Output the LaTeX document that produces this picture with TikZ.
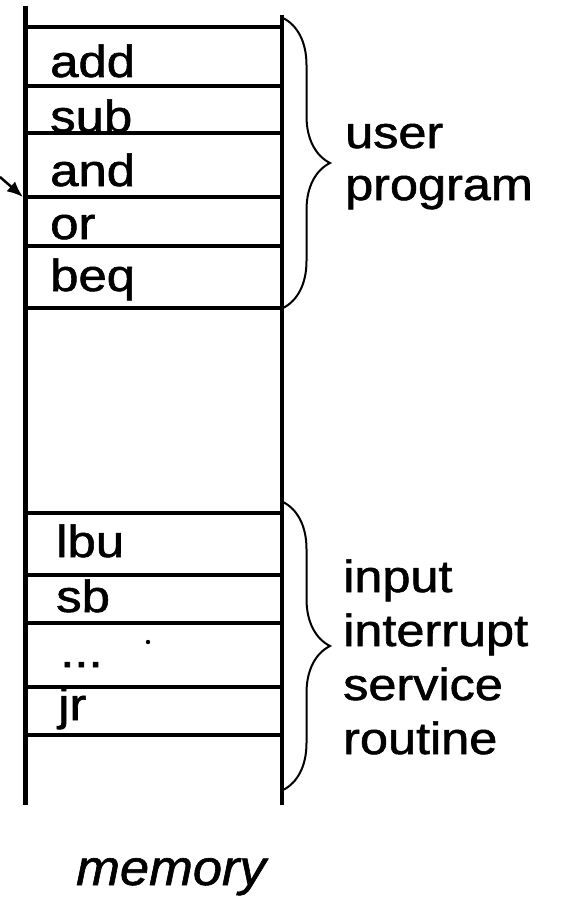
\documentclass[tikz,border=0pt]{standalone}
\usepackage{fontspec}
\setmainfont{Liberation Sans}[FakeBold=1.2]
\usetikzlibrary{arrows.meta,decorations.pathreplacing}

\begin{document}
\begin{tikzpicture}[x=1pt, y=-1pt, every node/.style={inner sep=0pt, font=\fontsize{45}{54}\selectfont},%
        cell/.style={anchor=base west, xscale=1.13}, note/.style={anchor=base west, align=left, xscale=1.12},%
        rule/.style={line width=4pt}, bracket/.style={line width=2pt, decorate, decoration={brace, amplitude=47pt}}]
    \useasboundingbox (0,0) rectangle (560,899);
    % the memory column
    \draw[line width=5pt] (25,6) -- (25,805);
    \draw[line width=4pt] (282,15) -- (282,805);
    \foreach \y in {27,86,133,197,246,308,513,575,623,687,735}
        \draw[rule] (25,\y) -- (282,\y);
    % words in memory
    \node[cell] (add) at (50,77) {add};
    \node[cell] (sub) at (50,132) {sub};
    \node[cell] (and) at (50,186) {and};
    \node[cell] (or) at (50,239) {or};
    \node[cell] (beq) at (50,291) {beq};
    \node[cell] (lbu) at (56,557) {lbu};
    \node[cell] (sb) at (56,612) {sb};
    \node[cell] (dots) at (60,667) {...};
    \node[cell] (jr) at (58,720) {jr};
    \fill (148,642) circle (2.2pt);
    % interrupt arrow
    \coordinate (from) at (0,177);
    \coordinate (to) at (23,197);
    \draw[line width=2.5pt, -{Latex[length=16pt,width=13pt]}] (from) -- (to);
    % braces and labels (base = last line)
    \draw[bracket] (283,18) -- (283,308);
    \draw[bracket] (283,502) -- (283,790);
    \node[note, font=\fontsize{45}{52}\selectfont] (user) at (345,200) {user\\program};
    \node[note] (isr) at (343,754) {input\\interrupt\\service\\routine};
    \node[anchor=base, xscale=1.05, font=\fontsize{50}{54}\selectfont\itshape] (mem) at (171,885) {memory};
\end{tikzpicture}
\end{document}
